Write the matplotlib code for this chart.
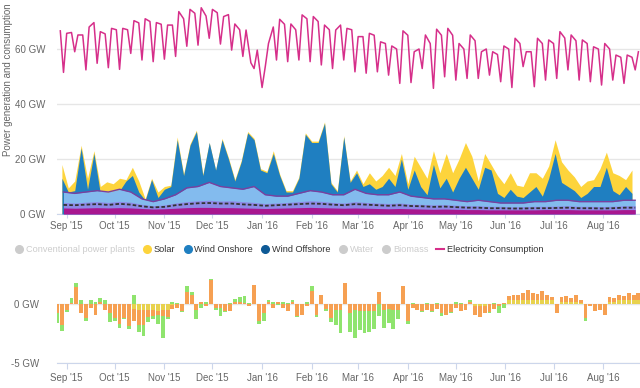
import numpy as np
import pandas as pd
import matplotlib
matplotlib.use("Agg")
import matplotlib.pyplot as plt
import matplotlib.dates as mdates
from matplotlib.lines import Line2D
from matplotlib.ticker import FuncFormatter

plt.rcParams["font.family"] = ["Liberation Sans", "DejaVu Sans"]

# ---- top panel: generation (cumulative tops, GW) on a 4-day grid ----
wind_top = [
    13, 8, 8.5, 24, 9, 22, 7.5, 7, 8, 8.5,
    12, 14, 8, 5, 12.5, 6, 9, 10, 27, 14,
    25, 30, 14, 26, 16, 27, 20, 12, 19, 29.5,
    27, 16, 15, 22, 14, 8, 8, 13, 29, 26,
    26, 33, 11, 8, 28, 11.5, 15, 10, 11, 9,
    10, 13, 10, 20, 9, 16, 10, 7, 18, 9.5,
    13, 8, 13, 17, 13, 9, 17, 16, 7.5, 6,
    9, 6.5, 6, 8, 10, 6.5, 13, 22, 11.5, 10,
    8.5, 6, 7.5, 10, 10, 17, 8.5, 7, 10, 7.5,
]
solar_top = [
    18, 9.5, 12, 25, 13, 23, 10, 11.7, 11, 13,
    12.5, 17, 12, 5.5, 13, 8, 10, 10.5, 28, 14.5,
    25.5, 30.5, 14.5, 26, 16, 27.5, 20.5, 12.5, 19.5, 30,
    27.5, 16.5, 15.5, 23, 14.5, 8.5, 8.5, 13.5, 29.5, 26.5,
    26.5, 33.5, 11.5, 8.5, 28.5, 12, 16, 11, 15, 12,
    14, 17, 14, 22, 11, 21, 17, 13, 23, 15,
    22, 15, 20, 26, 21, 12, 22, 18, 14, 11,
    15, 10.5, 10, 15, 15, 13, 17.5, 27, 19, 16,
    13.5, 10, 12, 12.5, 16.5, 22.5, 15, 14, 12.5, 16,
]

# ---- weekly base layers (GW, cumulative tops) ----
light_blue_top = [
    8, 7.5, 8, 8.5, 8, 9, 8, 5.5, 4.5, 5.5,
    7, 9.5, 10, 11.5, 10, 9.5, 9, 10, 7, 6.5,
    6.5, 7.5, 8.5, 8, 7, 7, 9, 7.5, 7, 7,
    8, 6.5, 6, 5.5, 5.5, 5, 4.5, 5, 4.5, 4,
    4, 4, 4.5, 4.5, 5, 5, 4.5, 4.5, 4.5, 4.5,
    5, 5,
]
violet_top = [
    4.2, 4.0, 4.3, 4.5, 4.2, 4.6, 4.3, 3.5, 3.0, 3.3,
    4.0, 4.5, 4.8, 5.0, 4.7, 4.8, 4.5, 4.2, 3.8, 4.0,
    4.2, 4.5, 4.8, 4.6, 4.2, 4.0, 4.5, 4.2, 4.0, 3.8,
    4.0, 3.6, 3.5, 3.3, 3.4, 3.2, 3.0, 3.0, 2.8, 2.8,
    2.6, 2.7, 2.8, 2.8, 2.9, 3.0, 2.8, 2.8, 2.7, 2.8,
    3.0, 3.0,
]
dark_line = [
    3.3, 3.2, 3.4, 3.6, 3.3, 3.7, 3.4, 2.8, 2.4, 2.6,
    3.2, 3.6, 3.9, 4.0, 3.8, 3.8, 3.5, 3.3, 3.0, 3.2,
    3.4, 3.6, 3.8, 3.7, 3.4, 3.2, 3.6, 3.4, 3.2, 3.0,
    3.2, 2.9, 2.8, 2.6, 2.7, 2.5, 2.3, 2.3, 2.1, 2.1,
    2.0, 2.0, 2.1, 2.1, 2.2, 2.3, 2.1, 2.1, 2.0, 2.1,
    2.3, 2.3,
]
magenta_top = [
    2.2, 2.1, 2.2, 2.3, 2.2, 2.3, 2.2, 2.0, 1.8, 1.9,
    2.1, 2.3, 2.4, 2.4, 2.3, 2.3, 2.2, 2.1, 2.0, 2.1,
    2.2, 2.3, 2.4, 2.3, 2.2, 2.1, 2.2, 2.1, 2.0, 1.9,
    2.0, 1.9, 1.8, 1.7, 1.8, 1.7, 1.6, 1.6, 1.5, 1.5,
    1.5, 1.5, 1.5, 1.6, 1.6, 1.6, 1.5, 1.5, 1.5, 1.5,
    1.6, 1.6,
]

# ---- electricity consumption (GW): Sunday, Tuesday, Friday of each week ----
cons_start = 66.6
cons_sun = [
    51.5, 59, 52.4, 54.8, 53.2, 52.6, 58.4, 56, 55.4, 56.3,
    57.3, 61, 61.4, 63.9, 61.8, 59.6, 57.3, 52.9, 53.6, 56,
    55.4, 56, 55.4, 54.2, 52.9, 56, 51.7, 51.2, 51.7, 50.5,
    47.5, 47.8, 52.9, 45.7, 49.9, 48.7, 49.3, 49.3, 50.5, 48.1,
    46, 53.6, 46.3, 48.7, 49.3, 52.4, 48.7, 48.1, 46.9, 48.7,
    47.5, 52.4,
]
cons_tue = [
    65.7, 65.1, 68, 66.3, 67.5, 67.5, 70.3, 71, 69.6, 68.7,
    73.6, 74.4, 75, 74.4, 71.8, 69.1, 66.9, 59.6, 62, 70.8,
    69.1, 72.4, 71.8, 68.7, 66.9, 67.5, 64.5, 65.7, 62.6, 61.1,
    66.6, 59, 65.1, 67.2, 67.5, 62, 65.1, 59, 59, 61.1,
    63.9, 59, 63.9, 63.3, 66.3, 65.1, 63.3, 60.8, 62, 57.8,
    57.8, 59,
]
cons_fri = [
    66, 65.1, 69.6, 65.5, 67, 67, 69.5, 70, 69, 68.7,
    71, 73, 72, 73.2, 72.5, 67, 55, 46, 68, 69,
    67, 71, 70, 67, 68.7, 67, 64.5, 65, 62, 60,
    65, 60, 62, 65, 65, 60, 63, 60, 58, 60,
    62, 59, 62, 62, 64, 63, 62, 60, 60, 57,
    57,
]

# ---- bottom panel (GW) on a 3-day grid ----
bal_yellow = [
    0, 0, 0, 0, 0, 0, 0, 0, 0, 0,
    0, 0, 0, 0, 0, 0, -0.4, -0.5, -0.5, -0.5,
    -0.5, -0.6, -0.5, -0.5, -0.1, 0, 0, 0, 0, 0,
    0, 0, 0, 0, 0, 0, 0, 0, 0, 0,
    0, 0, 0, 0, 0, 0, 0, 0, 0, 0,
    0, 0, 0, 0, 0, 0, 0, 0, 0, 0,
    0, 0, 0, 0, 0, 0, 0, 0, 0, 0,
    0, 0, 0, 0, 0, 0, 0, 0, 0, 0,
    0, 0, 0, 0, 0, 0, 0, -0.2, -0.2, -0.2,
    0, 0, 0, 0, 0.3, 0.3, 0.3, 0.35, 0.35, 0.35,
    0.35, 0.3, 0.3, 0.3, 0, 0.2, 0.2, 0.2, 0.2, 0.1,
    0, 0, 0, 0, 0, 0.2, 0.2, 0.3, 0.3, 0.3,
    0.3, 0.3,
]
bal_orange = [
    -0.8, -1.8, -0.5, 0.1, 1.4, -0.8, -1.2, -0.3, -0.9, 0.2,
    -0.5, -0.8, -1.2, -1.7, -1.2, -1.9, -1.0, -1.3, -1.3, -0.6,
    -0.5, -0.3, -0.5, -0.6, -0.3, -0.3, -0.6, 1.0, 0.8, -0.5,
    0.2, -0.2, 2.0, -0.3, -0.3, -0.6, -0.6, 0.2, 0.2, 0.1,
    -0.2, 1.6, -1.4, -0.8, 0.2, -0.3, 0.2, -0.3, -0.6, 0.2,
    -1.0, -0.9, -0.2, 1.1, -0.9, 0.8, -0.4, -1.2, -0.5, -0.5,
    1.8, -0.8, -0.5, -0.6, -0.6, -0.6, -0.6, 1.0, -0.5, -0.4,
    -0.5, -0.5, 1.5, -1.4, -0.3, -0.5, -0.6, -0.5, -0.6, -0.4,
    -0.8, -0.9, -0.7, -0.3, -0.6, -0.5, 0.2, -0.7, -0.9, -0.6,
    -0.7, -0.4, -0.2, 0.1, 0.4, 0.5, 0.5, 0.6, 0.8, 0.6,
    0.5, 0.8, 0.5, 0.3, -0.8, 0.4, 0.5, 0.3, 0.6, 0.2,
    -1.2, -0.2, -0.6, -0.5, -0.9, 0.4, 0.3, 0.5, 0.4, 0.6,
    0.5, 0.6,
]
bal_green = [
    -0.8, -0.5, -0.2, 0.4, 0.4, 0.3, -0.2, 0.3, 0.2, 0.3,
    0.3, -0.7, -0.2, -0.3, -0.1, -0.2, 0.8, -0.6, -0.9, -0.4,
    -0.3, -0.8, -1.9, -0.2, 0.2, 0.1, -0.1, 0.5, 0.2, -0.8,
    -0.3, 0.2, 0.1, -0.2, -0.7, -0.1, 0.1, 0.2, 0.4, 0.6,
    0.1, 0.0, -0.3, -0.6, 0.1, 0.2, -0.1, 0.2, 0.1, 0.1,
    -0.1, 0.0, 0.2, 0.4, -0.2, 0.0, -0.2, -0.3, -1.3, -2.0,
    0.0, -1.6, -2.4, -1.6, -1.9, -1.8, -1.5, -1.0, -1.5, -1.2,
    -1.6, -0.8, 0.0, -0.3, 0.1, 0.0, -0.1, 0.1, -0.1, 0.1,
    -0.2, 0.0, -0.1, 0.2, 0.1, 0.0, 0.1, 0.0, 0.0, 0.0,
    -0.1, 0.1, -0.6, -0.3, 0, 0, 0, 0, 0, 0,
    0, 0, 0, 0, 0, 0, 0, 0, 0, 0,
    -0.2, 0, 0, 0, 0, 0, 0, 0, 0, 0,
    0, 0,
]

legend_names = ["Conventional power plants", "Solar", "Wind Onshore", "Wind Offshore",
                "Water", "Biomass", "Electricity Consumption"]
legend_colors = ["#cccccc", "#fdd43c", "#1f7fc1", "#0e5a96", "#cccccc", "#cccccc", "#d62f8a"]
legend_hidden = [True, False, False, False, True, True, False]

d4 = pd.date_range("2015-08-29", periods=len(wind_top), freq="4D")
weeks = pd.date_range("2015-08-30", periods=len(cons_sun), freq="7D")
d3 = pd.date_range("2015-08-26", periods=len(bal_orange), freq="3D")

cons_dates = [pd.Timestamp("2015-08-28")]
cons_vals = [cons_start]
for i, sun in enumerate(weeks):
    cons_dates.append(sun)
    cons_vals.append(cons_sun[i])
    if i < len(cons_tue):
        cons_dates.append(sun + pd.Timedelta(days=2))
        cons_vals.append(cons_tue[i])
    if i < len(cons_fri):
        cons_dates.append(sun + pd.Timedelta(days=5))
        cons_vals.append(cons_fri[i])

x_lo = pd.Timestamp("2015-09-01") - pd.Timedelta(days=6.06)
x_hi = pd.Timestamp("2016-08-24")

label_col = "#666666"
axis_col = "#ccd6eb"
grid_col = "#e6e6e6"

W, H = 640, 388
fig = plt.figure(figsize=(6.4, 3.88), dpi=100)
ax = fig.add_axes([57 / W, 1 - 214 / H, 583 / W, 209 / H])
ax2 = fig.add_axes([57 / W, 1 - 363 / H, 583 / W, 95 / H])

# top panel: each layer filled from zero, painted from the tallest down
ax.fill_between(d4, 0, solar_top, color="#fdd43c", lw=0, zorder=2)
ax.fill_between(d4, 0, wind_top, color="#1f7fc1", lw=0, zorder=3)
ax.fill_between(weeks, 0, light_blue_top, color="#83bbee", lw=0, zorder=4)
ax.plot(weeks, light_blue_top, color="#7b3f9e", lw=1.0, zorder=5)
ax.fill_between(weeks, 0, violet_top, color="#8d89e6", lw=0, zorder=6)
ax.plot(weeks, dark_line, color="#333333", lw=1.3, ls=(0, (2, 1.2)), zorder=7)
ax.fill_between(weeks, 0, magenta_top, color="#a8178f", lw=0, zorder=8)
ax.plot(cons_dates, cons_vals, color="#d62f8a", lw=1.1, zorder=9)

ax.set_xlim(x_lo, x_hi)
ax.set_ylim(0, 76)
ax.set_yticks([0, 20, 40, 60])
ax.yaxis.set_major_formatter(FuncFormatter(lambda v, p: f"{v:.0f} GW"))
ax.grid(axis="y", color=grid_col, lw=1, zorder=0)
for s in ["top", "right", "left"]:
    ax.spines[s].set_visible(False)
ax.spines["bottom"].set_color(axis_col)
ax.tick_params(axis="y", length=0, pad=8.5, labelsize=7, labelcolor=label_col)
ax.xaxis.set_major_locator(mdates.MonthLocator())
ax.xaxis.set_major_formatter(mdates.DateFormatter("%b '%y"))
ax.tick_params(axis="x", length=3, color=axis_col, pad=2, labelsize=7, labelcolor=label_col)

# bottom panel: stacked signed bars
yel = np.array(bal_yellow)
ora = np.array(bal_orange)
gre = np.array(bal_green)
pos_base = np.zeros(len(ora))
neg_base = np.zeros(len(ora))
for vals, col in [(yel, "#e8d24e"), (ora, "#f6a052"), (gre, "#8fe46e")]:
    base = np.where(vals >= 0, pos_base, neg_base)
    ax2.bar(d3, vals, width=2.4, bottom=base, color=col, lw=0, zorder=3)
    pos_base += np.clip(vals, 0, None)
    neg_base += np.clip(vals, None, 0)

ax2.set_xlim(x_lo, x_hi)
ax2.set_ylim(-5, 3.05)
ax2.set_yticks([-5, 0])
ax2.yaxis.set_major_formatter(FuncFormatter(lambda v, p: f"{v:.0f} GW"))
ax2.grid(axis="y", color=grid_col, lw=1, zorder=0)
for s in ["top", "right", "left"]:
    ax2.spines[s].set_visible(False)
ax2.spines["bottom"].set_color(axis_col)
ax2.tick_params(axis="y", length=0, pad=13, labelsize=7, labelcolor=label_col)
ax2.xaxis.set_major_locator(mdates.MonthLocator())
ax2.xaxis.set_major_formatter(mdates.DateFormatter("%b '%y"))
ax2.tick_params(axis="x", length=4, color=axis_col, pad=3, labelsize=7, labelcolor=label_col)

fig.text(8 / W, 1 - 80 / H, "Power generation and consumption", rotation=90,
         ha="center", va="center", fontsize=7, color=label_col)

# legend: laid out left to right by measured text widths
renderer = fig.canvas.get_renderer()
ly = 1 - 249 / H
texts = []
widths = []
for name, hidden in zip(legend_names, legend_hidden):
    t = fig.text(0, ly, name, ha="left", va="center", fontsize=6.6,
                 color="#cccccc" if hidden else "#333333")
    texts.append(t)
    widths.append(t.get_window_extent(renderer).width)
sym_gap, item_gap = 7, 12
x = 19
for t, w, col, name in zip(texts, widths, legend_colors, legend_names):
    if name == "Electricity Consumption":
        fig.add_artist(Line2D([(x - 4) / W, (x + 4) / W], [ly, ly], color=col, lw=1.5))
    else:
        fig.add_artist(Line2D([x / W], [ly], marker="o", ms=5.5, color=col, lw=0))
    t.set_x((x + sym_gap) / W)
    x += sym_gap + w + item_gap

fig.savefig("out.png", dpi=100)
